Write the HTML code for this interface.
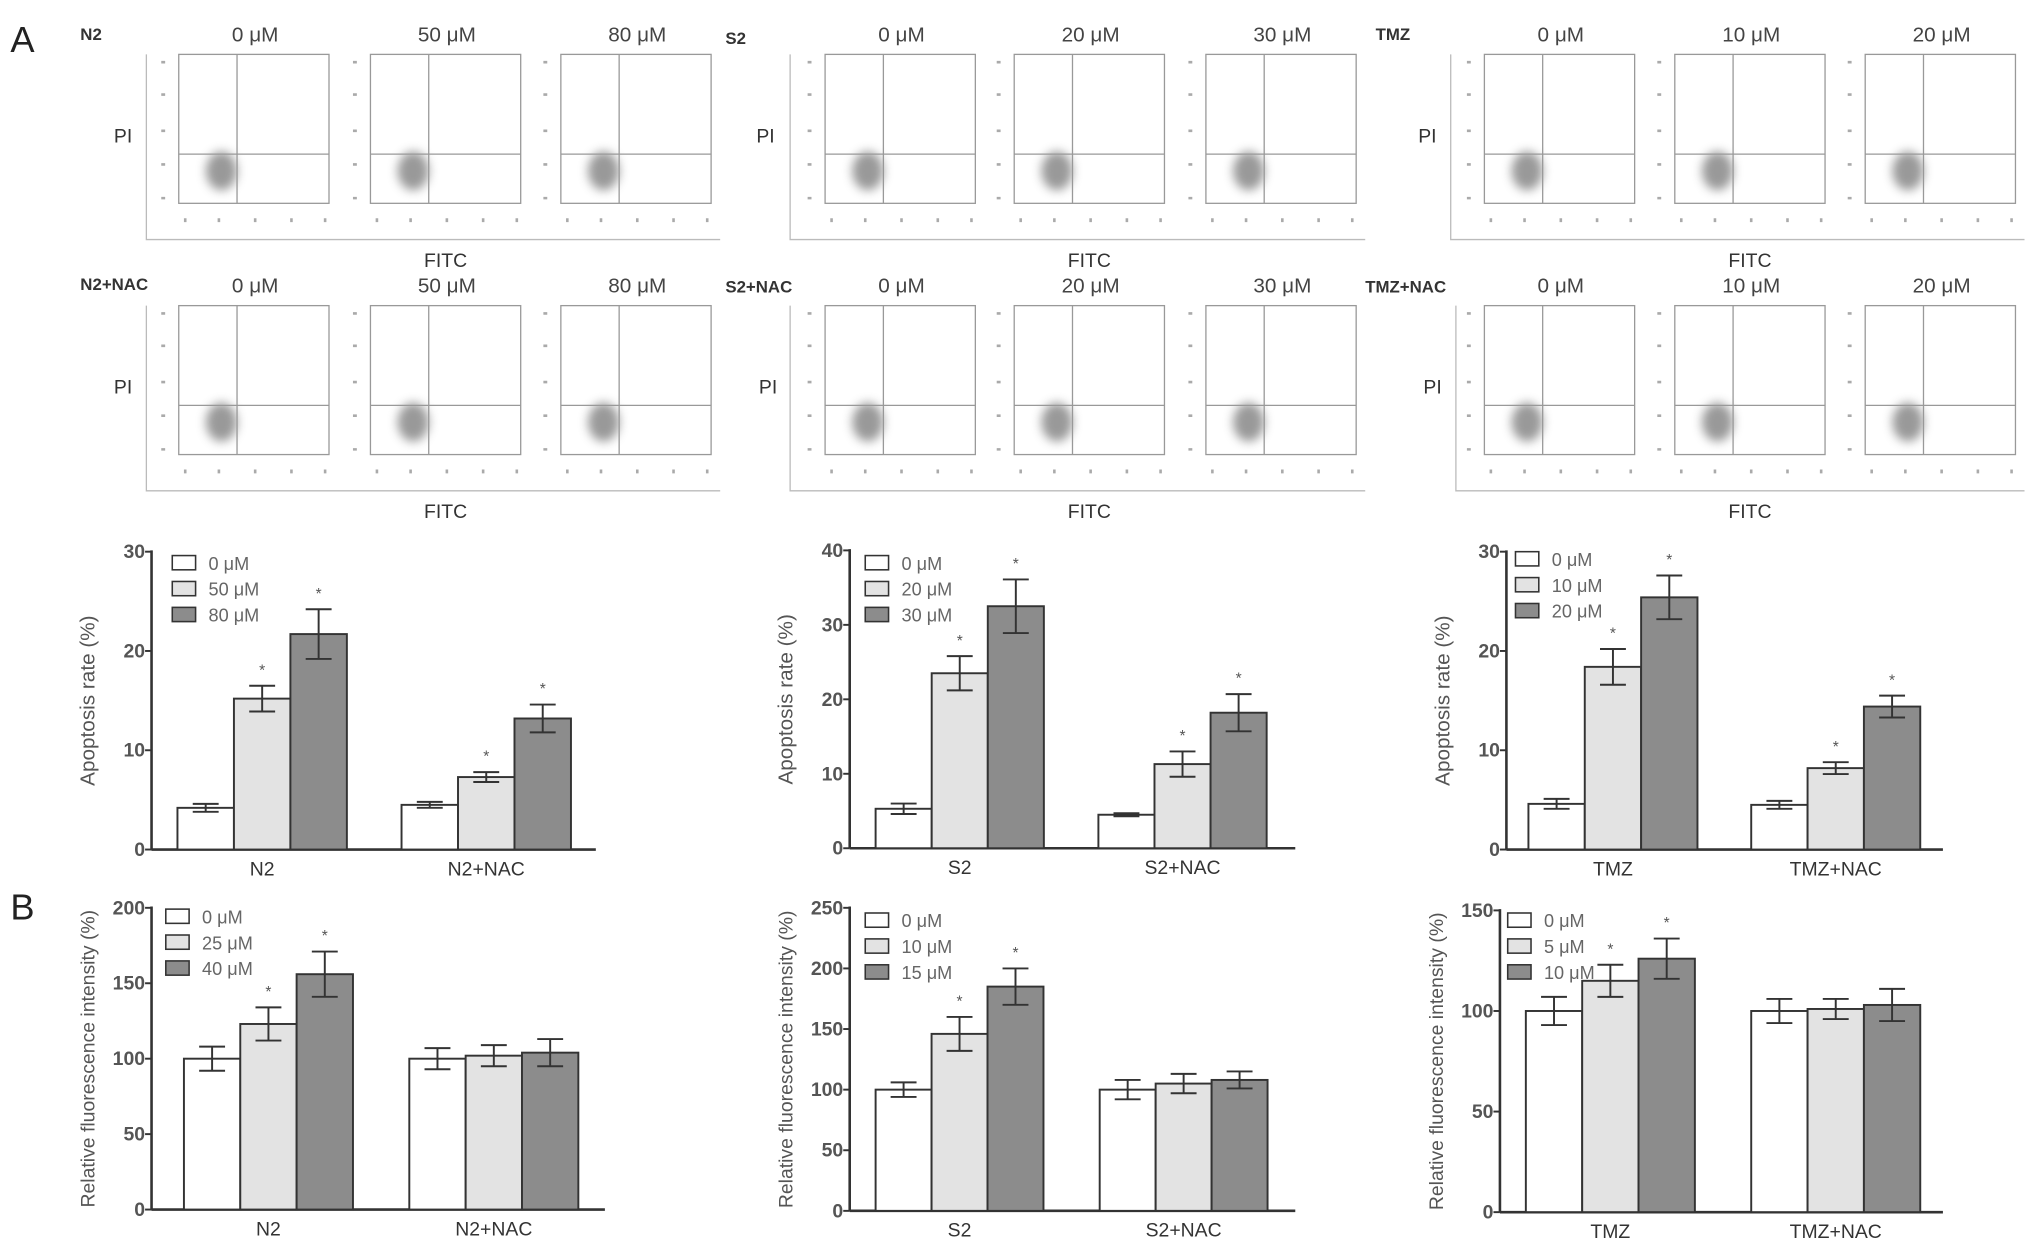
<!DOCTYPE html>
<html><head><meta charset="utf-8"><style>
html,body{margin:0;padding:0;background:#fff;}
svg{display:block;font-family:"Liberation Sans",sans-serif;}
</style></head><body>
<svg id="fig" width="2031" height="1251" viewBox="0 0 1568 966" preserveAspectRatio="none" xmlns="http://www.w3.org/2000/svg">
<defs><filter id="blur" x="-50%" y="-50%" width="200%" height="200%"><feGaussianBlur stdDeviation="4"/></filter></defs>
<rect width="1568" height="966" fill="#fff"/>
<text x="8" y="40" font-size="28" fill="#222">A</text>
<text x="8" y="710" font-size="28" fill="#222">B</text>
</svg>
<script>
// ---------- chart data ----------
const groupsA1 = ["N2", "N2+NAC"];
const legendA1 = ["0 μM", "50 μM", "80 μM"];
const valsA1 = [[4.2, 15.2, 21.7], [4.5, 7.3, 13.2]];
const errA1 = [[0.4, 1.3, 2.5], [0.3, 0.5, 1.4]];
const starA1 = [[0, 1, 1], [0, 1, 1]];
const ticksA1 = [0, 10, 20, 30];

const groupsA2 = ["S2", "S2+NAC"];
const legendA2 = ["0 μM", "20 μM", "30 μM"];
const valsA2 = [[5.3, 23.5, 32.5], [4.5, 11.3, 18.2]];
const errA2 = [[0.7, 2.3, 3.6], [0.2, 1.7, 2.5]];
const starA2 = [[0, 1, 1], [0, 1, 1]];
const ticksA2 = [0, 10, 20, 30, 40];

const groupsA3 = ["TMZ", "TMZ+NAC"];
const legendA3 = ["0 μM", "10 μM", "20 μM"];
const valsA3 = [[4.6, 18.4, 25.4], [4.5, 8.2, 14.4]];
const errA3 = [[0.5, 1.8, 2.2], [0.4, 0.6, 1.1]];
const starA3 = [[0, 1, 1], [0, 1, 1]];
const ticksA3 = [0, 10, 20, 30];

const groupsB1 = ["N2", "N2+NAC"];
const legendB1 = ["0 μM", "25 μM", "40 μM"];
const valsB1 = [[100, 123, 156], [100, 102, 104]];
const errB1 = [[8, 11, 15], [7, 7, 9]];
const starB1 = [[0, 1, 1], [0, 0, 0]];
const ticksB1 = [0, 50, 100, 150, 200];

const groupsB2 = ["S2", "S2+NAC"];
const legendB2 = ["0 μM", "10 μM", "15 μM"];
const valsB2 = [[100, 146, 185], [100, 105, 108]];
const errB2 = [[6, 14, 15], [8, 8, 7]];
const starB2 = [[0, 1, 1], [0, 0, 0]];
const ticksB2 = [0, 50, 100, 150, 200, 250];

const groupsB3 = ["TMZ", "TMZ+NAC"];
const legendB3 = ["0 μM", "5 μM", "10 μM"];
const valsB3 = [[100, 115, 126], [100, 101, 103]];
const errB3 = [[7, 8, 10], [6, 5, 8]];
const starB3 = [[0, 1, 1], [0, 0, 0]];
const ticksB3 = [0, 50, 100, 150];

const NS = "http://www.w3.org/2000/svg";
const svg = document.getElementById("fig");
function mk(tag, attrs, parent) {
  const e = document.createElementNS(NS, tag);
  for (const k in attrs) e.setAttribute(k, attrs[k]);
  (parent || svg).appendChild(e);
  return e;
}
const fills = ["#ffffff", "#e3e3e3", "#8c8c8c"];

function barChart(id, cfg, groups, legend, vals, errs, stars, ticks) {
  const g = mk("g", {});
  
  
  const max = ticks[ticks.length - 1];
  const y = v => cfg.y0 - (v / max) * (cfg.y0 - cfg.ytop);
  const bw = cfg.bw;
  const ax = mk("line", {x1: cfg.ax, y1: cfg.ytop - 1, x2: cfg.ax, y2: cfg.y0, stroke: "#333", "stroke-width": 2}, g);
  
  
  const xa = mk("line", {x1: cfg.ax, y1: cfg.y0, x2: cfg.xend, y2: cfg.y0, stroke: "#333", "stroke-width": 2}, g);
  
  
  ticks.forEach(t => {
    const tk = mk("line", {x1: cfg.ax - 5, y1: y(t), x2: cfg.ax, y2: y(t), stroke: "#333", "stroke-width": 1.5}, g);
    
    
    const tl = mk("text", {x: cfg.ax - 5, y: y(t) + 5, "font-size": 15, "font-weight": "bold", fill: "#555", "text-anchor": "end"}, g);
    tl.textContent = t;
    
    
  });
  const ty = (cfg.y0 + cfg.ytop) / 2;
  const tt = mk("text", {x: cfg.ax - 44, y: ty, "font-size": cfg.tfs, fill: "#555", "text-anchor": "middle", transform: `rotate(-90 ${cfg.ax - 44} ${ty})`}, g);
  tt.textContent = cfg.title;
  
  
  groups.forEach((gn, gi) => {
    const gx = cfg.gx[gi];
    vals[gi].forEach((v, si) => {
      const x = gx + si * bw;
      const r = mk("rect", {x: x, y: y(v), width: bw, height: cfg.y0 - y(v), fill: fills[si], stroke: "#333", "stroke-width": 1.5}, g);
      
      
      const cx = x + bw / 2, e = errs[gi][si];
      const eb = mk("path", {d: `M${cx - 10},${y(v + e)}H${cx + 10}M${cx},${y(v + e)}V${y(v - e)}M${cx - 10},${y(v - e)}H${cx + 10}`, stroke: "#333", "stroke-width": 1.5, fill: "none"}, g);
      
      
      if (stars[gi][si]) {
        const s = mk("text", {x: cx, y: y(v + e) - 8, "font-size": 12, fill: "#555", "text-anchor": "middle"}, g);
        s.textContent = "*";
        
        
      }
    });
    const cl = mk("text", {x: gx + 1.5 * bw, y: cfg.y0 + 20, "font-size": 15, fill: "#333", "text-anchor": "middle"}, g);
    cl.textContent = gn;
    
    
  });
  legend.forEach((l, i) => {
    const ly = cfg.ly + i * 20;
    const sw = mk("rect", {x: cfg.lx, y: ly - 6, width: 18, height: 11, fill: fills[i], stroke: "#333", "stroke-width": 1.2}, g);
    
    
    const lt = mk("text", {x: cfg.lx + 28, y: ly + 5, "font-size": 14, fill: "#666"}, g);
    lt.textContent = l;
    
    
  });
}
const tA = "Apoptosis rate (%)", tB = "Relative fluorescence intensity  (%)";
barChart("chart-a-n2", {ax: 117, y0: 656, ytop: 426, xend: 460, bw: 43.6, gx: [137, 310], lx: 133, ly: 435, title: tA, tfs: 16}, groupsA1, legendA1, valsA1, errA1, starA1, ticksA1);
barChart("chart-a-s2", {ax: 656, y0: 655, ytop: 425, xend: 1000, bw: 43.3, gx: [676, 848], lx: 668, ly: 435, title: tA, tfs: 16}, groupsA2, legendA2, valsA2, errA2, starA2, ticksA2);
barChart("chart-a-tmz", {ax: 1163, y0: 656, ytop: 426, xend: 1500, bw: 43.5, gx: [1180, 1352], lx: 1170, ly: 432, title: tA, tfs: 16}, groupsA3, legendA3, valsA3, errA3, starA3, ticksA3);
barChart("chart-b-n2", {ax: 117, y0: 934, ytop: 701, xend: 467, bw: 43.5, gx: [142, 316], lx: 128, ly: 708, title: tB, tfs: 15}, groupsB1, legendB1, valsB1, errB1, starB1, ticksB1);
barChart("chart-b-s2", {ax: 656, y0: 935, ytop: 701, xend: 1000, bw: 43.2, gx: [676, 849], lx: 668, ly: 711, title: tB, tfs: 15}, groupsB2, legendB2, valsB2, errB2, starB2, ticksB2);
barChart("chart-b-tmz", {ax: 1158, y0: 936, ytop: 703, xend: 1500, bw: 43.5, gx: [1178, 1352], lx: 1164, ly: 711, title: tB, tfs: 15}, groupsB3, legendB3, valsB3, errB3, starB3, ticksB3);

// ---------- flow cytometry panels ----------
const flowGroups = [
  {label: "N2", lx: 62, ly: 31, frameX: 113, boxes: [138, 286, 433], doses: ["0 μM", "50 μM", "80 μM"], row: 0, pi: 95, fitc: 344},
  {label: "N2+NAC", lx: 62, ly: 224, frameX: 113, boxes: [138, 286, 433], doses: ["0 μM", "50 μM", "80 μM"], row: 1, pi: 95, fitc: 344},
  {label: "S2", lx: 560, ly: 34, frameX: 610, boxes: [637, 783, 931], doses: ["0 μM", "20 μM", "30 μM"], row: 0, pi: 591, fitc: 841},
  {label: "S2+NAC", lx: 560, ly: 226, frameX: 610, boxes: [637, 783, 931], doses: ["0 μM", "20 μM", "30 μM"], row: 1, pi: 593, fitc: 841},
  {label: "TMZ", lx: 1062, ly: 31, frameX: 1120, boxes: [1146, 1293, 1440], doses: ["0 μM", "10 μM", "20 μM"], row: 0, pi: 1102, fitc: 1351},
  {label: "TMZ+NAC", lx: 1054, ly: 226, frameX: 1124, boxes: [1146, 1293, 1440], doses: ["0 μM", "10 μM", "20 μM"], row: 1, pi: 1106, fitc: 1351}
];
flowGroups.forEach(fg => {
  const g = mk("g", {});
  
  
  const by = fg.row ? 236 : 42;
  const fb = by + 143;
  const lb = mk("text", {x: fg.lx, y: fg.ly, "font-size": 13, "font-weight": "bold", fill: "#333"}, g);
  lb.textContent = fg.label;
  
  
  const fr = mk("path", {d: `M${fg.frameX},${by}V${fb}H${fg.boxes[2] + 123}`, stroke: "#bbb", "stroke-width": 1, fill: "none"}, g);
  
  
  const pi = mk("text", {x: fg.pi, y: by + 68, "font-size": 15, fill: "#333", "text-anchor": "middle"}, g);
  pi.textContent = "PI";
  
  
  const ft = mk("text", {x: fg.fitc, y: fb + 21, "font-size": 15, fill: "#333", "text-anchor": "middle"}, g);
  ft.textContent = "FITC";
  
  
  fg.boxes.forEach((bx, i) => {
    const d = mk("text", {x: bx + 59, y: by - 10, "font-size": 16, fill: "#444", "text-anchor": "middle"}, g);
    d.textContent = fg.doses[i];
    
    
    const blob = mk("ellipse", {cx: bx + 33, cy: by + 90, rx: 12, ry: 15, fill: "#777", opacity: 0.75, filter: "url(#blur)"}, g);
    
    
    const r = mk("rect", {x: bx, y: by, width: 116, height: 115, fill: "none", stroke: "#999", "stroke-width": 1}, g);
    
    
    const q = mk("path", {d: `M${bx + 45},${by}V${by + 115}M${bx},${by + 77}H${bx + 116}`, stroke: "#999", "stroke-width": 1, fill: "none"}, g);
    
    
    const tk = mk("path", {d: `M${bx - 12},${by + 5}v2M${bx - 12},${by + 30}v2M${bx - 12},${by + 58}v2M${bx - 12},${by + 84}v2M${bx - 12},${by + 110}v2M${bx + 4},${by + 128}h2M${bx + 30},${by + 128}h2M${bx + 58},${by + 128}h2M${bx + 86},${by + 128}h2M${bx + 112},${by + 128}h2`, stroke: "#aaa", "stroke-width": 3, fill: "none"}, g);
    
    
  });
});
</script>
</body></html>
